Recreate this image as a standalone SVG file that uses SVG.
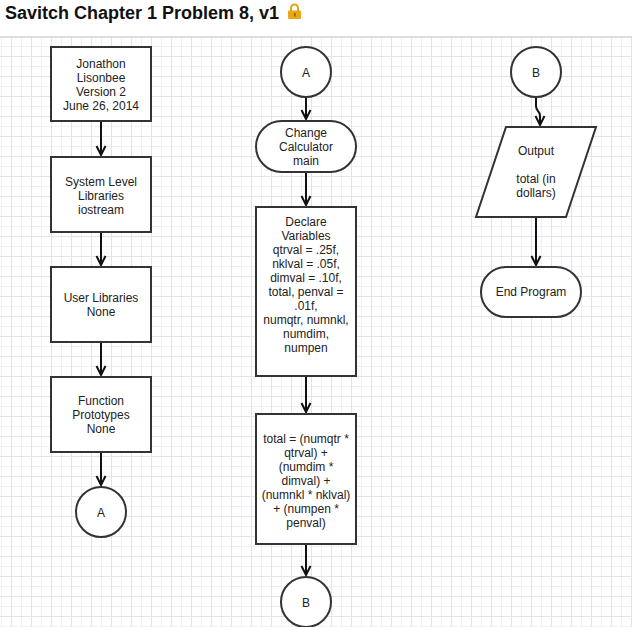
<svg xmlns="http://www.w3.org/2000/svg" width="632" height="627" viewBox="0 0 632 627">
<defs>
<pattern id="grid" x="0" y="0" width="20" height="20" patternUnits="userSpaceOnUse">
<rect width="20" height="20" fill="#ffffff"/>
<path d="M1.5,0 V20 M0,6.5 H20" stroke="#f0eef8" stroke-width="1" fill="none"/>
<path d="M11.5,0 V20 M0,16.5 H20" stroke="#e5e1f3" stroke-width="1" fill="none"/>
</pattern>
<marker id="arr" markerUnits="userSpaceOnUse" viewBox="-12 -7 14 14" markerWidth="14" markerHeight="14" refX="0" refY="0" orient="auto" overflow="visible">
<path d="M-9,-4.5 L0,0 L-9,4.5" fill="none" stroke="#111" stroke-width="2"/>
</marker>
</defs>
<style>
.node{fill:#ffffff;stroke:#333333;stroke-width:2}
.lbl{font-family:"Liberation Sans",Arial,sans-serif;font-size:12px;fill:#222222;text-anchor:middle}
.edge{fill:none;stroke:#111111;stroke-width:2;marker-end:url(#arr)}
.title{font-family:"Liberation Sans",Arial,sans-serif;font-size:18px;font-weight:bold;fill:#111111}
</style>
<rect x="0" y="0" width="632" height="627" fill="#ffffff"/>
<rect x="0" y="37" width="632" height="590" fill="url(#grid)"/>
<line x1="0" y1="37" x2="632" y2="37" stroke="#d4d4d4" stroke-width="1.5"/>
<text class="title" x="5" y="18.5">Savitch Chapter 1 Problem 8, v1</text>
<g id="lock">
<path d="M291,11 V8 A3.5,3.5 0 0 1 298,8 V11" fill="none" stroke="#e3a412" stroke-width="2"/>
<rect x="288" y="10.5" width="13" height="8.5" rx="1" fill="#e8a817"/>
<rect x="294" y="13" width="1.5" height="3.5" fill="#8a5c00"/>
</g>
<g id="connectors">
<path class="edge" d="M101,121 V155"/>
<path class="edge" d="M101,232 V265"/>
<path class="edge" d="M101,342 V375"/>
<path class="edge" d="M101,452 V485"/>
<path class="edge" d="M306,97 V119"/>
<path class="edge" d="M306,172 V205"/>
<path class="edge" d="M306,376 V412"/>
<path class="edge" d="M306,544 V575"/>
<path class="edge" d="M536,97 V106 C536,112 540,110 540,116 V125"/>
<path class="edge" d="M536,217 V265"/>
</g>
<g id="n1">
<rect class="node" x="51" y="47" width="100" height="74"/>
<text class="lbl" x="101" y="67.5">Jonathon</text>
<text class="lbl" x="101" y="81.5">Lisonbee</text>
<text class="lbl" x="101" y="95.5">Version 2</text>
<text class="lbl" x="101" y="109.5">June 26, 2014</text>
</g>
<g id="n2">
<rect class="node" x="51" y="157" width="100" height="75"/>
<text class="lbl" x="101" y="185.5">System Level</text>
<text class="lbl" x="101" y="199.5">Libraries</text>
<text class="lbl" x="101" y="213.5">iostream</text>
</g>
<g id="n3">
<rect class="node" x="51" y="267" width="100" height="75"/>
<text class="lbl" x="101" y="301.5">User Libraries</text>
<text class="lbl" x="101" y="315.5">None</text>
</g>
<g id="n4">
<rect class="node" x="51" y="377" width="100" height="75"/>
<text class="lbl" x="101" y="404.5">Function</text>
<text class="lbl" x="101" y="418.5">Prototypes</text>
<text class="lbl" x="101" y="432.5">None</text>
</g>
<g id="n5">
<circle class="node" cx="101" cy="512" r="25"/>
<text class="lbl" x="101" y="516.5">A</text>
</g>
<g id="n6">
<circle class="node" cx="306" cy="72" r="25"/>
<text class="lbl" x="306" y="76.5">A</text>
</g>
<g id="n7">
<rect class="node" x="256" y="121" width="100" height="51" rx="25.5" ry="25.5"/>
<text class="lbl" x="306" y="136.5">Change</text>
<text class="lbl" x="306" y="150.5">Calculator</text>
<text class="lbl" x="306" y="164.5">main</text>
</g>
<g id="n8">
<rect class="node" x="256" y="207" width="100" height="169"/>
<text class="lbl" x="306" y="226">Declare</text>
<text class="lbl" x="306" y="240">Variables</text>
<text class="lbl" x="306" y="254">qtrval = .25f,</text>
<text class="lbl" x="306" y="268">nklval = .05f,</text>
<text class="lbl" x="306" y="282">dimval = .10f,</text>
<text class="lbl" x="306" y="296">total, penval =</text>
<text class="lbl" x="306" y="310">.01f,</text>
<text class="lbl" x="306" y="324">numqtr, numnkl,</text>
<text class="lbl" x="306" y="338">numdim,</text>
<text class="lbl" x="306" y="352">numpen</text>
</g>
<g id="n9">
<rect class="node" x="256" y="414" width="100" height="130"/>
<text class="lbl" x="306" y="442.5">total = (numqtr *</text>
<text class="lbl" x="306" y="456.5">qtrval) +</text>
<text class="lbl" x="306" y="470.5">(numdim *</text>
<text class="lbl" x="306" y="484.5">dimval) +</text>
<text class="lbl" x="306" y="498.5">(numnkl * nklval)</text>
<text class="lbl" x="306" y="512.5">+ (numpen *</text>
<text class="lbl" x="306" y="526.5">penval)</text>
</g>
<g id="n10">
<circle class="node" cx="306" cy="602" r="25"/>
<text class="lbl" x="306" y="606.5">B</text>
</g>
<g id="n11">
<circle class="node" cx="536" cy="72" r="25"/>
<text class="lbl" x="536" y="76.5">B</text>
</g>
<g id="n12">
<polygon class="node" points="506,127 596,127 566,217 476,217"/>
<text class="lbl" x="536" y="155">Output</text>
<text class="lbl" x="536" y="183">total (in</text>
<text class="lbl" x="536" y="197">dollars)</text>
</g>
<g id="n13">
<rect class="node" x="481" y="267" width="100" height="50" rx="25" ry="25"/>
<text class="lbl" x="531" y="296">End Program</text>
</g>
</svg>
